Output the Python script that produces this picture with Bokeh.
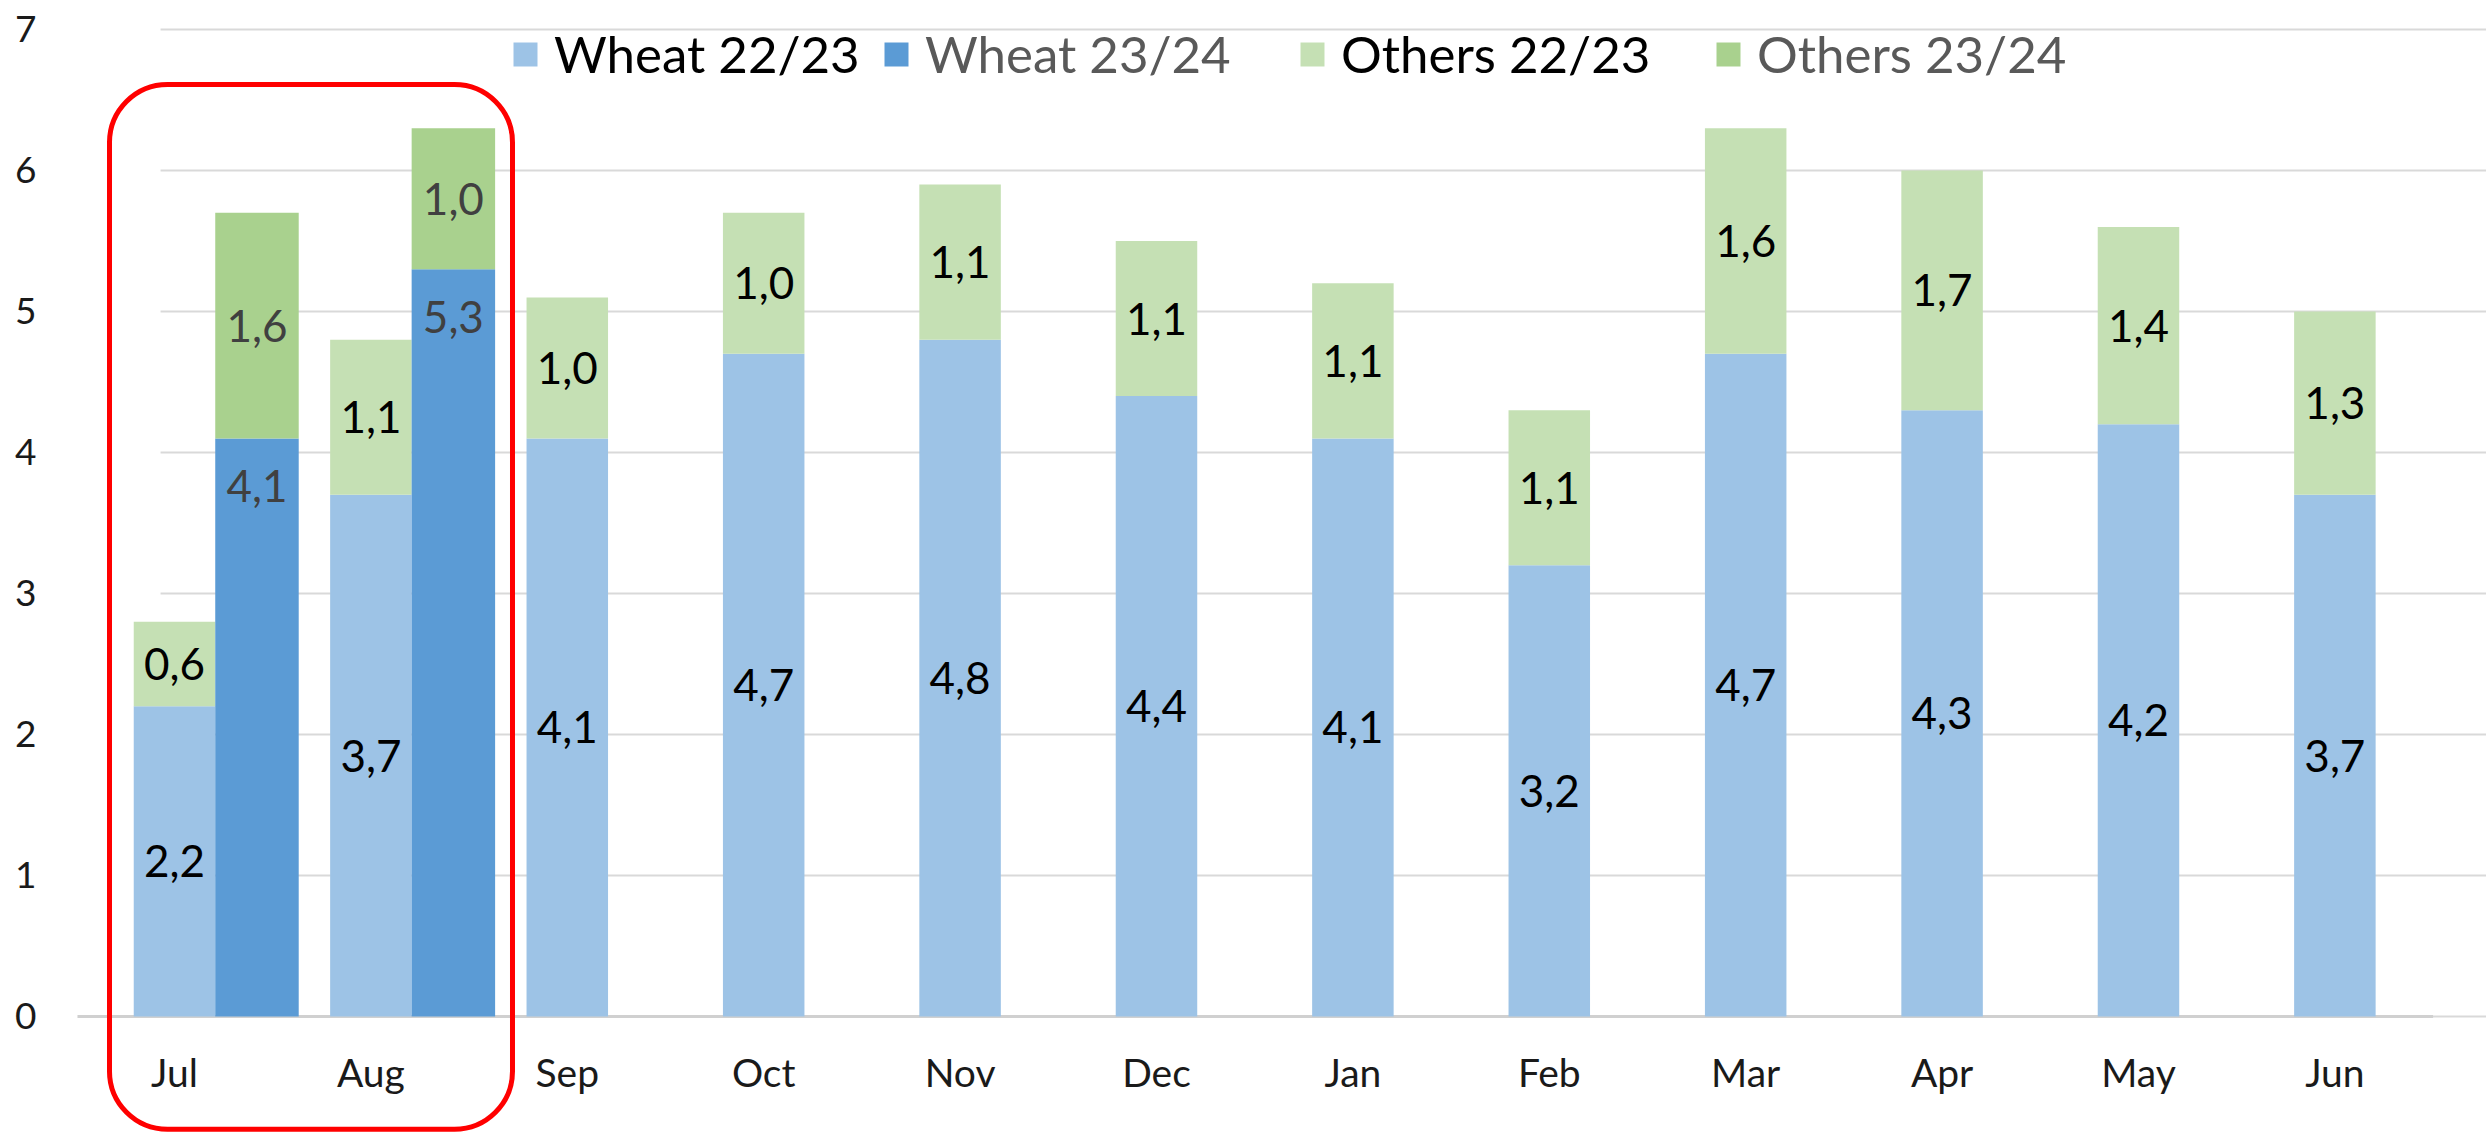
from bokeh.plotting import figure
from bokeh.models import ColumnDataSource, FixedTicker, Legend, LegendItem, BoxAnnotation, Range1d
from bokeh.core.properties import value
from bokeh.transform import dodge
from bokeh.embed import file_html
from bokeh.resources import INLINE

# ---------------- data ----------------
months = ["Jul", "Aug", "Sep", "Oct", "Nov", "Dec", "Jan", "Feb", "Mar", "Apr", "May", "Jun"]
wheat_2223 = [2.2, 3.7, 4.1, 4.7, 4.8, 4.4, 4.1, 3.2, 4.7, 4.3, 4.2, 3.7]
others_2223 = [0.6, 1.1, 1.0, 1.0, 1.1, 1.1, 1.1, 1.1, 1.6, 1.7, 1.4, 1.3]
months_2324 = ["Jul", "Aug"]
wheat_2324 = [4.1, 5.3]
others_2324 = [1.6, 1.0]
y_ticks = [0, 1, 2, 3, 4, 5, 6, 7]
series_names = ["Wheat 22/23", "Wheat 23/24", "Others 22/23", "Others 23/24"]

# ---------------- style ----------------
FONT = "Lato"
C_WHEAT_22 = "#9DC3E6"
C_WHEAT_23 = "#5B9BD5"
C_OTH_22 = "#C5E0B4"
C_OTH_23 = "#A9D18E"
GRID = "#D9D9D9"


def fmt(v):
    return f"{v:.1f}".replace(".", ",")


x22 = list(range(len(months)))
x23 = [months.index(m) for m in months_2324]

src22 = ColumnDataSource(dict(
    x=x22, month=months,
    wheat=wheat_2223,
    wheat_mid=[w / 2 for w in wheat_2223],
    oth_bot=wheat_2223,
    oth_top=[w + o for w, o in zip(wheat_2223, others_2223)],
    oth_mid=[w + o / 2 for w, o in zip(wheat_2223, others_2223)],
    wheat_lbl=[fmt(v) for v in wheat_2223],
    oth_lbl=[fmt(v) for v in others_2223],
))
src23 = ColumnDataSource(dict(
    x=x23,
    wheat=wheat_2324,
    oth_bot=wheat_2324,
    oth_top=[w + o for w, o in zip(wheat_2324, others_2324)],
    oth_mid=[w + o / 2 for w, o in zip(wheat_2324, others_2324)],
    wheat_lbl=[fmt(v) for v in wheat_2324],
    oth_lbl=[fmt(v) for v in others_2324],
))

W, H = 2486, 1135
p = figure(width=W, height=H,
           x_range=Range1d(-0.5295, 11.772), y_range=Range1d(-0.844, 7.092),
           x_axis_location=None, y_axis_location="left",
           min_border_left=70, min_border_right=0, min_border_top=16, min_border_bottom=0,
           output_backend="svg", toolbar_location=None)
p.outline_line_color = None
p.background_fill_color = "white"
p.border_fill_color = "white"
p.xgrid.visible = False
p.ygrid.visible = False

ax = p.yaxis[0]
ax.ticker = FixedTicker(ticks=y_ticks)
ax.axis_line_color = None
ax.major_tick_line_color = None
ax.minor_tick_line_color = None
ax.major_tick_out = 0
ax.major_tick_in = 0
ax.major_label_standoff = 34
ax.major_label_text_font = FONT
ax.major_label_text_font_size = "37px"
ax.major_label_text_color = "#1a1a1a"

# gridlines
grid_x0, grid_x1 = -0.071, 11.772
p.segment(x0=grid_x0, x1=grid_x1, y0=y_ticks, y1=y_ticks, line_color=GRID, line_width=2)
# baseline
p.segment(x0=-0.494, x1=11.50, y0=0, y1=0, line_color="#D0D0D0", line_width=3)

BW22 = 0.415
BW23 = 0.425
OFF = 0.42

r_w22 = p.vbar(x="x", width=BW22, bottom=0, top="wheat", source=src22,
               fill_color=C_WHEAT_22, line_color=None)
r_o22 = p.vbar(x="x", width=BW22, bottom="oth_bot", top="oth_top", source=src22,
               fill_color=C_OTH_22, line_color=None)
r_w23 = p.vbar(x=dodge("x", OFF, range=p.x_range), width=BW23, bottom=0, top="wheat",
               source=src23, fill_color=C_WHEAT_23, line_color=None)
r_o23 = p.vbar(x=dodge("x", OFF, range=p.x_range), width=BW23, bottom="oth_bot", top="oth_top",
               source=src23, fill_color=C_OTH_23, line_color=None)

LBL = dict(text_align="center", text_baseline="middle", text_font=value(FONT),
           text_font_size="44px")
p.text(x="x", y="wheat_mid", text="wheat_lbl", source=src22, text_color="#000000", **LBL)
p.text(x="x", y="oth_mid", text="oth_lbl", source=src22, text_color="#000000", **LBL)
# 23/24 wheat labels sit at the inside end of the bar
p.text(x=dodge("x", OFF, range=p.x_range), y="wheat", text="wheat_lbl", source=src23,
       text_color="#404040", y_offset=48, **LBL)
p.text(x=dodge("x", OFF, range=p.x_range), y="oth_mid", text="oth_lbl", source=src23,
       text_color="#404040", **LBL)

# category labels
p.text(x="x", y=-0.397, text="month", source=src22, text_align="center",
       text_baseline="middle", text_font=value(FONT), text_font_size="39px",
       text_color="#1a1a1a")

# highlight box
box = BoxAnnotation(left=-0.331, right=1.721, top=6.61, bottom=-0.80,
                    fill_alpha=0, fill_color=None, line_color="#FF0000", line_alpha=1.0,
                    line_width=5, border_radius=58)
p.add_layout(box)

# legends (one per item so each label keeps its own colour)
leg_specs = [
    (series_names[0], r_w22, "#000000", 440),
    (series_names[1], r_w23, "#595959", 811),
    (series_names[2], r_o22, "#000000", 1227),
    (series_names[3], r_o23, "#595959", 1643),
]
for name, r, col, lx in leg_specs:
    leg = Legend(items=[LegendItem(label=name, renderers=[r])], location=(lx, 1051),
                 orientation="horizontal", label_text_font=FONT, label_text_font_size="51px",
                 label_text_color=col, glyph_width=30, glyph_height=30, label_standoff=14,
                 padding=0, margin=0, spacing=0, border_line_color=None,
                 background_fill_alpha=0)
    p.add_layout(leg)

open("out.html", "w").write(file_html(p, INLINE))
